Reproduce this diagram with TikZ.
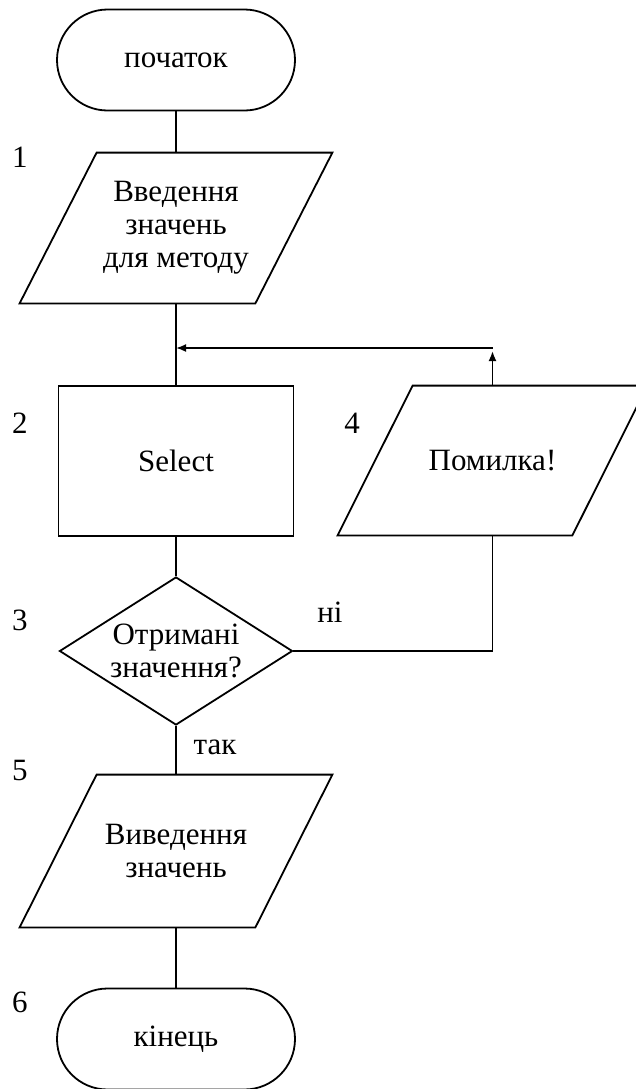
\documentclass[tikz,border=0pt]{standalone}
\usepackage{fontspec}
\setmainfont{Liberation Serif}
\usetikzlibrary{shapes.geometric,shapes.misc,calc,arrows.meta}

\newcommand\drawslanted[2]{%
  \draw[outline] ($(#1.south west)+(-#2,0)$) -- ($(#1.north west)+(#2,0)$)
    -- ($(#1.north east)+(#2,0)$) -- ($(#1.south east)+(-#2,0)$) -- cycle;}

\begin{document}
\begin{tikzpicture}[x=0.5pt,y=-0.5pt,
  every node/.style={font=\fontsize{15.5pt}{16.5pt}\selectfont, inner sep=0pt},
  outline/.style={draw=black, line width=0.9pt},
  line/.style={draw=black, line width=0.9pt},
  arr/.style={line, -{Latex[length=5pt,width=4pt]}},
  terminal/.style={rounded rectangle, outline, minimum width=119pt, minimum height=50.5pt},
  slanted/.style={rectangle, minimum width=117.5pt, minimum height=75pt, align=center},
  process/.style={rectangle, outline, minimum width=117.5pt, minimum height=75pt},
  decision/.style={diamond, outline, minimum width=116.5pt, minimum height=74pt},
  lbl/.style={anchor=base}]

\useasboundingbox (0,0) rectangle (636,1089);

% flow nodes
\node[terminal] (start) at (176,60) {початок};
\node[slanted] (p1) at (176,228) {Введення\\значень\\для методу};
\node[process] (sel) at (176,461) {Select};
\node[slanted, minimum width=117pt, minimum height=74.5pt] (p4) at (492.5,460.5) {Помилка!};
\node[decision] (d) at (176,651) {};
\node[align=center] (dtext) at (d.center) {Отримані\\значення?};
\node[slanted, minimum height=76pt] (p5) at (176,851) {Виведення\\значень};
\node[terminal] (end) at (176,1039) {кінець};

\drawslanted{p1}{38.5}
\drawslanted{p4}{37.5}
\drawslanted{p5}{38.5}

% step numbers
\node[lbl] (n1) at (20,167) {1};
\node[lbl] (n2) at (20,433) {2};
\node[lbl] (n3) at (20,630) {3};
\node[lbl] (n4) at (352,433) {4};
\node[lbl] (n5) at (20,780) {5};
\node[lbl] (n6) at (20,1012) {6};

% branch labels
\node[lbl] (no) at (330,622) {ні};
\node[lbl] (yes) at (215,754) {так};

% loop-back points
\coordinate (j) at (176,348);
\coordinate (k) at (492.5,348);

% connectors
\draw[line] (start.south) -- (p1.north);
\draw[line] (p1.south) -- (sel.north);
\draw[line] (sel.south) -- (d.north);
\draw[line] (d.south) -- (p5.north);
\draw[line] (p5.south) -- (end.north);
\draw[line] (d.east) -| (p4.south);
\draw[arr, shorten >=1.5pt] (p4.north) -- (k);
\draw[arr] (k) -- (j);

\end{tikzpicture}
\end{document}
